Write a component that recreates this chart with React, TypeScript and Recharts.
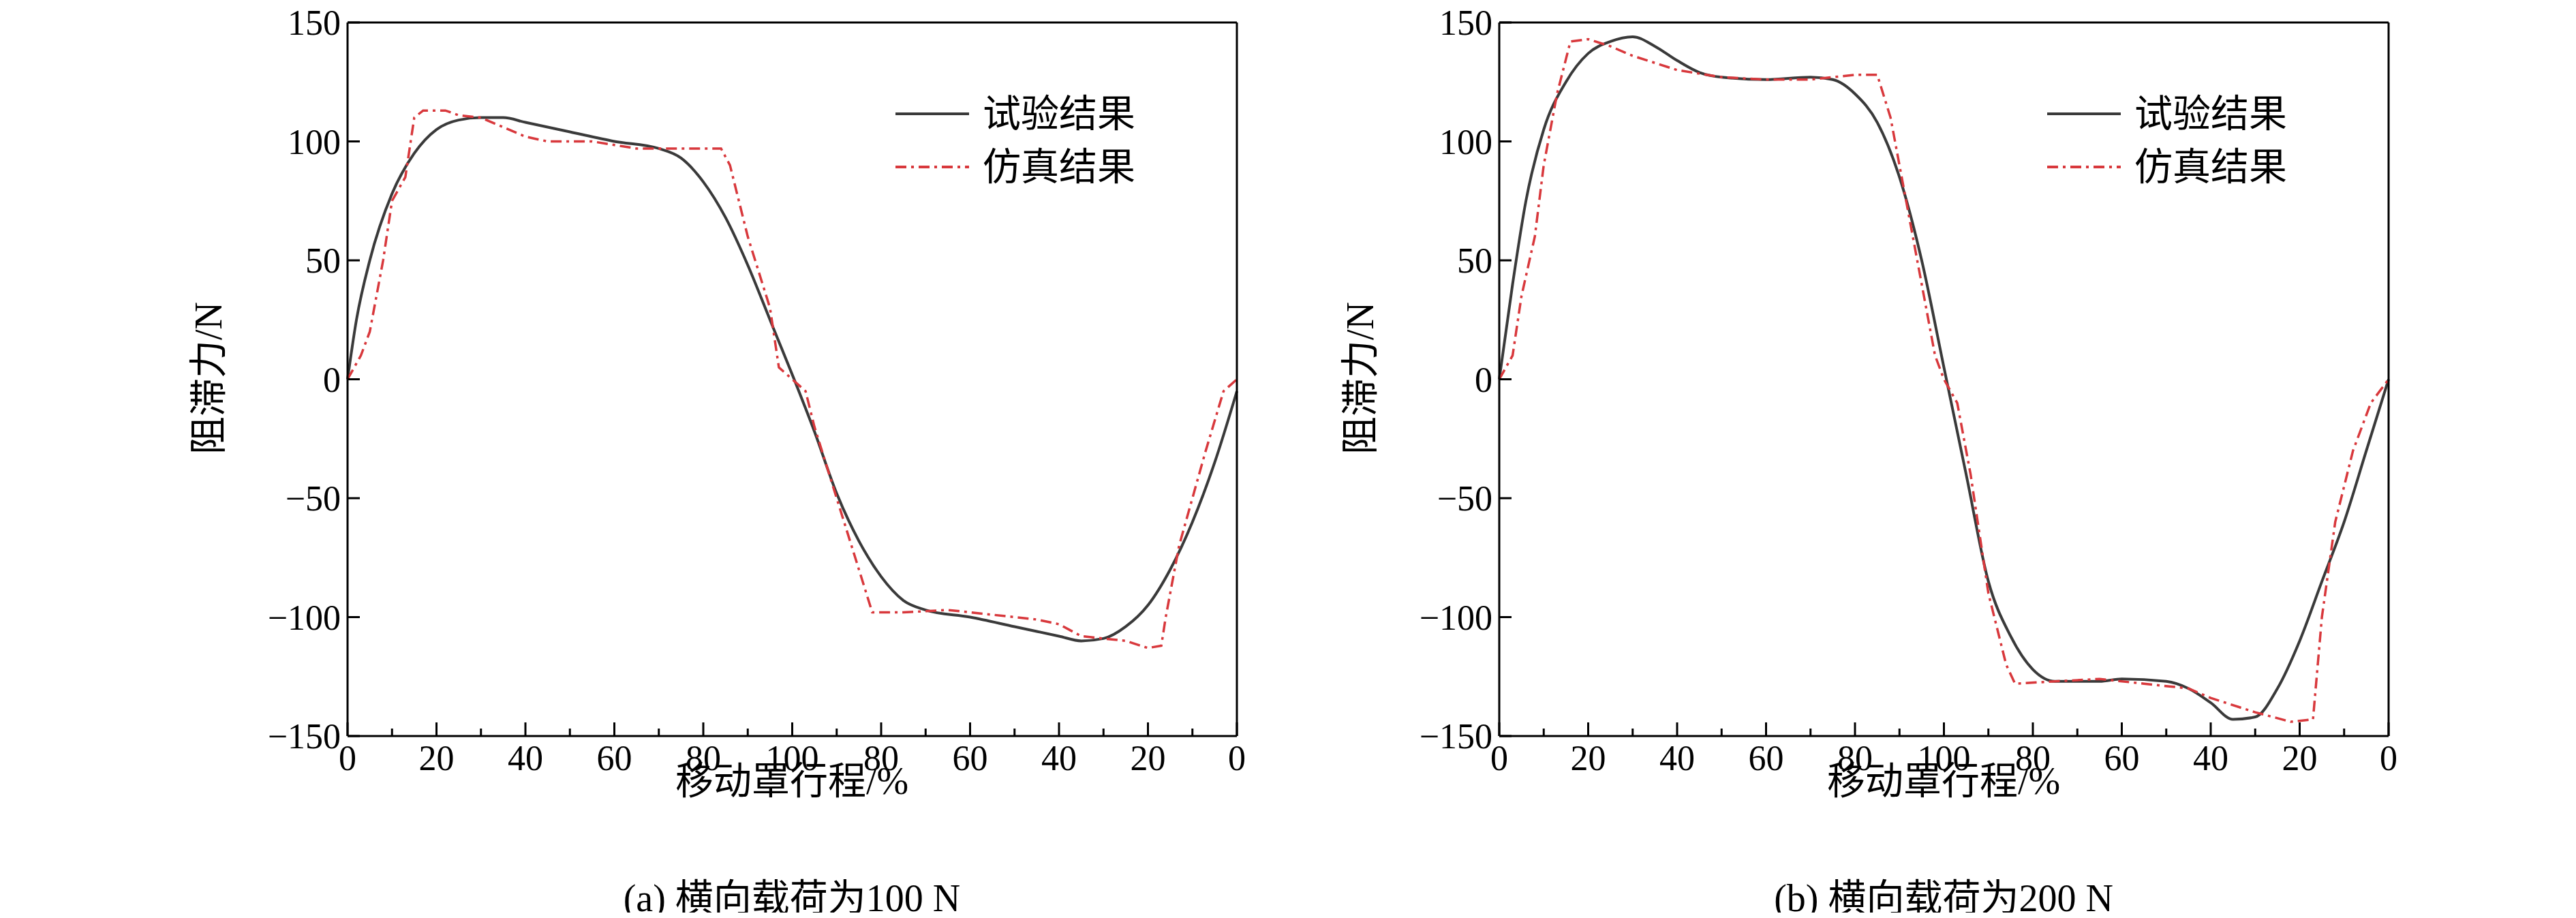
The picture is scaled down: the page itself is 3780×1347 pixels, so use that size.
import React from 'react';
import { LineChart, Line, XAxis, YAxis } from 'recharts';

// stroke position (0..200): forward 0-100, back 100-200
const xTicks = [0, 10, 20, 30, 40, 50, 60, 70, 80, 90, 100, 110, 120, 130, 140, 150, 160, 170, 180, 190, 200];
const yTicks = [-150, -100, -50, 0, 50, 100, 150];

const testA: [number, number][] = [
  [0, 0], [2, 25], [5, 50], [10, 78], [15, 95], [20, 105], [25, 109], [30, 110], [35, 110], [40, 108],
  [50, 104], [60, 100], [70, 97], [75, 93], [80, 83], [85, 68], [90, 48], [95, 25], [100, 2], [105, -22],
  [110, -48], [115, -68], [120, -83], [125, -93], [130, -97], [140, -100], [150, -104], [160, -108], [165, -110],
  [170, -109], [175, -104], [180, -95], [185, -80], [190, -60], [195, -35], [200, -5],
];
const simA: [number, number][] = [
  [0, 0], [3, 10], [5, 20], [8, 50], [10, 75], [13, 85], [15, 110], [17, 113], [22, 113], [25, 111], [30, 110],
  [35, 106], [40, 102], [45, 100], [55, 100], [65, 97], [75, 97], [84, 97], [86, 90], [90, 60], [95, 30], [97, 5],
  [100, 0], [103, -5], [105, -20], [110, -50], [115, -80], [118, -98], [125, -98], [135, -97], [150, -100],
  [155, -101], [160, -103], [165, -108], [175, -110], [180, -113], [183, -112], [184, -100], [187, -70],
  [190, -50], [193, -30], [197, -5], [200, 0],
];
const testB: [number, number][] = [
  [0, 0], [3, 40], [6, 75], [10, 105], [15, 125], [20, 137], [25, 142], [30, 144], [35, 140], [40, 134], [45, 129],
  [50, 127], [60, 126], [70, 127], [75, 126], [80, 120], [85, 108], [90, 85], [95, 50], [100, 5], [105, -40],
  [110, -85], [115, -108], [120, -122], [125, -127], [135, -127], [140, -126], [150, -127], [155, -130],
  [160, -136], [165, -143], [170, -142], [175, -130], [180, -110], [185, -85], [190, -60], [195, -30], [200, 0],
];
const simB: [number, number][] = [
  [0, 0], [3, 10], [5, 35], [8, 60], [10, 90], [13, 120], [16, 142], [20, 143], [25, 140], [30, 136], [40, 130],
  [50, 127], [60, 126], [70, 126], [80, 128], [85, 128], [88, 110], [92, 70], [96, 30], [98, 10], [100, 0],
  [103, -10], [106, -40], [110, -90], [114, -120], [116, -128], [125, -127], [135, -126], [145, -128],
  [155, -130], [160, -134], [170, -140], [178, -144], [183, -143], [185, -100], [188, -60], [192, -30],
  [196, -10], [200, 0],
];

const seriesNames = ['试验结果', '仿真结果'];
const xTitle = '移动罩行程/%';
const yTitle = '阻滞力/N';
const captions = ['(a) 横向载荷为100 N', '(b) 横向载荷为200 N'];

const FONT = '"Liberation Serif", "Noto Sans CJK SC", serif';
const BLACK = '#3a3a3a';
const RED = '#d8383c';

const toRows = (pts: [number, number][]) => pts.map(([x, v]) => ({ x, v }));
const xLabel = (v: number) => String(v <= 100 ? v : 200 - v);

const XTick = (p: any) => {
  const v = p.payload.value;
  const major = v % 20 === 0;
  return (
    <g>
      <line x1={p.x} x2={p.x} y1={p.y} y2={p.y - (major ? 20 : 11)} stroke="#000" strokeWidth={3} />
      {major && (
        <text x={p.x} y={p.y + 50} textAnchor="middle" fontSize={52} fontFamily={FONT} fill="#000">
          {xLabel(v)}
        </text>
      )}
    </g>
  );
};

const YTick = (p: any) => (
  <g>
    <line x1={p.x} x2={p.x + 18} y1={p.y} y2={p.y} stroke="#000" strokeWidth={3} />
    <text x={p.x - 10} y={p.y + 18} textAnchor="end" fontSize={52} fontFamily={FONT} fill="#000">
      {String(p.payload.value).replace('-', '\u2212')}
    </text>
  </g>
);

function Panel({ left, test, sim, caption }: { left: number; test: [number, number][]; sim: [number, number][]; caption: string }) {
  return (
    <div style={{ position: 'absolute', left, top: 0, width: 1890, height: 1347 }}>
      <LineChart width={1890} height={1347} margin={{ top: 32, right: 74, bottom: 266, left: 509 }}>
        <XAxis xAxisId="b" type="number" dataKey="x" domain={[0, 200]} ticks={xTicks} tick={<XTick />} tickSize={0} tickMargin={0}
          axisLine={{ stroke: '#000', strokeWidth: 3 }} tickLine={false} height={1} />
        <XAxis xAxisId="top" orientation="top" type="number" dataKey="x" domain={[0, 200]} tick={false} height={1}
          axisLine={{ stroke: '#000', strokeWidth: 3 }} tickLine={false} />
        <YAxis yAxisId="l" type="number" domain={[-150, 150]} ticks={yTicks} tick={<YTick />} tickSize={0} tickMargin={0}
          axisLine={{ stroke: '#000', strokeWidth: 3 }} tickLine={false} width={1} allowDataOverflow />
        <YAxis yAxisId="right" orientation="right" type="number" domain={[-150, 150]} tick={false} width={1}
          axisLine={{ stroke: '#000', strokeWidth: 3 }} tickLine={false} />
        <Line xAxisId="b" yAxisId="l" data={toRows(test)} dataKey="v" type="monotone" stroke={BLACK} strokeWidth={4} dot={false} isAnimationActive={false} />
        <Line xAxisId="b" yAxisId="l" data={toRows(sim)} dataKey="v" type="linear" stroke={RED} strokeWidth={3.5} strokeDasharray="16 7 4 7" dot={false} isAnimationActive={false} />
      </LineChart>
      <div style={{ position: 'absolute', left: 1314, top: 128, fontFamily: FONT, fontSize: 56, lineHeight: '78px' }}>
        {seriesNames.map((n, i) => (
          <div key={n} style={{ display: 'flex', alignItems: 'center' }}>
            <svg width={110} height={20} style={{ marginRight: 18 }}>
              <line x1={0} x2={108} y1={10} y2={10} stroke={i === 0 ? BLACK : RED} strokeWidth={4}
                strokeDasharray={i === 0 ? undefined : '16 7 4 7'} />
            </svg>
            {n}
          </div>
        ))}
      </div>
      <div style={{ position: 'absolute', left: 300, top: 555, transform: 'translate(-50%,-50%) rotate(-90deg)', fontFamily: FONT, fontSize: 56, whiteSpace: 'nowrap' }}>
        {yTitle}
      </div>
      <div style={{ position: 'absolute', left: 1162, top: 1140, transform: 'translate(-50%,-50%)', fontFamily: FONT, fontSize: 56, whiteSpace: 'nowrap' }}>
        {xTitle}
      </div>
      <div style={{ position: 'absolute', left: 1162, top: 1312, transform: 'translate(-50%,-50%)', fontFamily: FONT, fontSize: 56, whiteSpace: 'nowrap' }}>
        {caption}
      </div>
    </div>
  );
}

export default function App() {
  return (
    <div style={{ position: 'relative', margin: -8, width: 3780, height: 1347, background: '#fff', overflow: 'hidden' }}>
      <Panel left={0} test={testA} sim={simA} caption={captions[0]} />
      <Panel left={1690} test={testB} sim={simB} caption={captions[1]} />
    </div>
  );
}
